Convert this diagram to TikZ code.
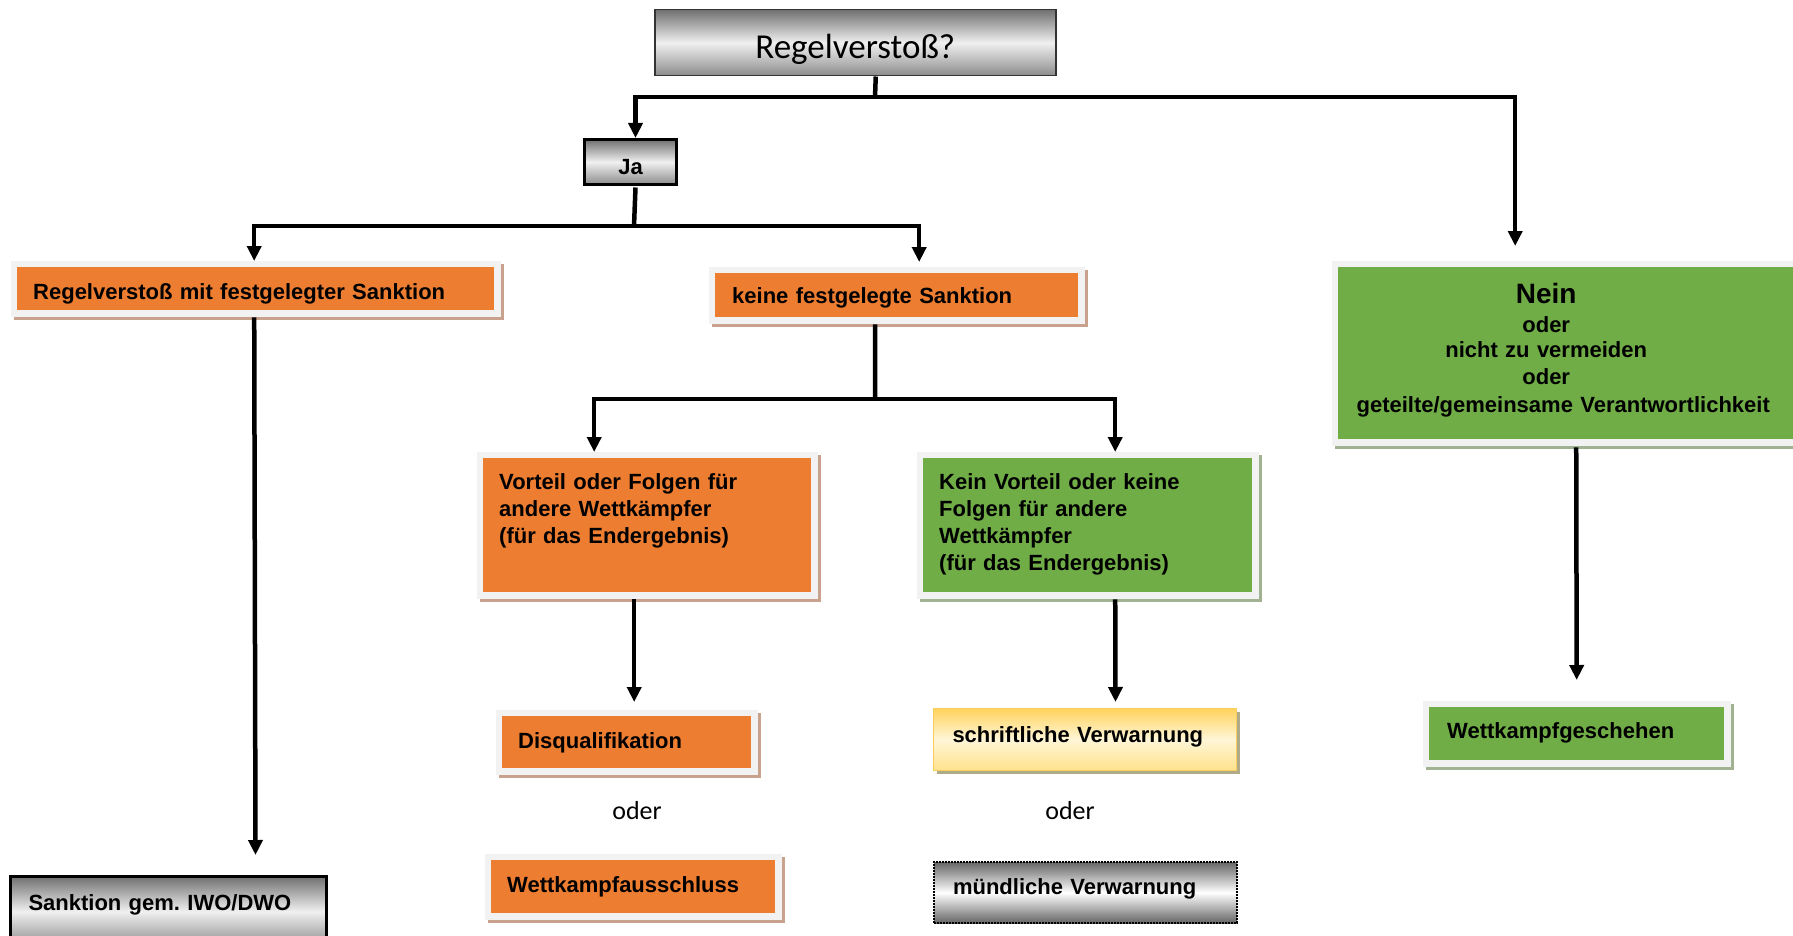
\documentclass[tikz,border=0pt]{standalone}
\usepackage{fontspec}
\setmainfont{Liberation Sans}
\newfontfamily\carlito{Carlito}
\usetikzlibrary{arrows.meta,calc}
\definecolor{orng}{RGB}{237,125,49}
\definecolor{grn}{RGB}{112,173,71}
\definecolor{framec}{RGB}{242,242,242}
\definecolor{oshadow}{RGB}{200,162,140}
\definecolor{gshadow}{RGB}{160,178,146}
\definecolor{yshadow}{RGB}{175,170,135}
\definecolor{gtop}{RGB}{112,112,112}
\definecolor{gmid}{RGB}{240,240,240}
\definecolor{gbot}{RGB}{140,140,140}
\definecolor{ytop}{RGB}{255,210,92}
\definecolor{ymid}{RGB}{255,246,215}
\definecolor{ybot}{RGB}{255,226,140}
\definecolor{yborder}{RGB}{250,205,95}
\tikzset{
  ln/.style={line width=4.5pt},
  arr/.style={ln,-{Triangle[length=15pt,width=14pt]}},
  txtbox/.style={anchor=north west, inner ysep=0pt, align=left,
    font=\bfseries\fontsize{22}{27}\selectfont},
  obox/.style={txtbox, fill=orng,
    preaction={draw=oshadow, line width=13pt, transform canvas={shift={(3,3)}}},
    preaction={draw=framec, line width=13pt}},
  gbox/.style={txtbox, fill=grn,
    preaction={draw=gshadow, line width=13pt, transform canvas={shift={(3,3)}}},
    preaction={draw=framec, line width=13pt}},
  graybox/.style={top color=gtop, bottom color=gbot, middle color=gmid},
}
\begin{document}
\frenchspacing
\begin{tikzpicture}[x=1pt,y=-1pt]
\useasboundingbox (0,0) rectangle (1793,936);
\fill[white] (0,0) rectangle (1793,936);

% top question
\node[graybox, draw=black!80, line width=1.5pt, anchor=north west, inner sep=0pt,
  minimum width=401pt, text height=49pt, text depth=17pt,
  font=\carlito\fontsize{35}{35}\selectfont] (top) at (654,9) {Regelverstoß?};

% Ja
\node[graybox, draw=black, line width=3pt, anchor=north west, inner sep=0pt,
  minimum width=92pt, text height=35pt, text depth=10pt,
  font=\bfseries\fontsize{22}{22}\selectfont] (ja) at (583,138) {Ja};

% level 2
\node[obox, inner xsep=16pt, text width=445pt, text height=32pt, text depth=11pt]
  (regel) at (17,267) {Regelverstoß mit festgelegter Sanktion};
\node[obox, inner xsep=17pt, text width=329pt, text height=30pt, text depth=14pt]
  (keine) at (715,273) {keine festgelegte Sanktion};
\node[gbox, inner xsep=0pt, text width=462pt, text height=36pt, text depth=136pt]
  (nein) at (1338,267) {\makebox[416pt]{\fontsize{28}{28}\selectfont Nein}\\[2pt]
  \makebox[416pt]{oder}\\[-2pt]
  \makebox[416pt]{nicht zu vermeiden}\\
  \makebox[416pt]{oder}\\[1pt]
  \makebox[416pt]{\hspace*{34pt}geteilte/gemeinsame Verantwortlichkeit}};

% level 3
\node[obox, inner xsep=16pt, text width=296pt, text height=31pt, text depth=103pt]
  (vorteil) at (483,458) {Vorteil oder Folgen für\\andere Wettkämpfer\\(für das Endergebnis)};
\node[gbox, inner xsep=16pt, text width=297pt, text height=31pt, text depth=103pt]
  (kein) at (923,458) {Kein Vorteil oder keine\\Folgen für andere\\Wettkämpfer\\(für das Endergebnis)};

% level 4
\node[obox, inner xsep=16pt, text width=217pt, text height=32pt, text depth=20pt]
  (disq) at (502,716) {Disqualifikation};
\node[anchor=base, inner sep=0pt, font=\carlito\fontsize{26}{26}\selectfont]
  (oder1) at (637,819) {oder};
\node[obox, inner xsep=16pt, text width=252pt, text height=32pt, text depth=21pt]
  (aus) at (491,860) {Wettkampfausschluss};

\node[txtbox, top color=ytop, bottom color=ybot, middle color=ymid, draw=yborder, line width=1pt,
  preaction={fill=yshadow, transform canvas={shift={(3,3)}}},
  inner xsep=19pt, text width=265pt, text height=34pt, text depth=28pt]
  (schrift) at (933,708) {schriftliche Verwarnung};
\node[anchor=base, inner sep=0pt, font=\carlito\fontsize{26}{26}\selectfont]
  (oder2) at (1070,819) {oder};
\node[txtbox, top color=gtop!90!black, bottom color=gtop!90!black, middle color=white, draw=black,
  line width=2pt, densely dotted,
  inner xsep=19pt, text width=265pt, text height=32pt, text depth=29pt]
  (muend) at (933,861) {mündliche Verwarnung};

\node[gbox, inner xsep=18pt, text width=259pt, text height=31pt, text depth=22pt]
  (wett) at (1429,707) {Wettkampfgeschehen};

\node[txtbox, graybox, draw=black, line width=3pt,
  inner xsep=18pt, text width=280pt, text height=34pt, text depth=36pt]
  (sanktion) at (9,875) {Sanktion gem.\ IWO/DWO};

% connectors
\coordinate (j1) at (875,97);
\draw[ln] ([xshift=20.5pt]top.south) -- (j1);
\draw[arr] (j1) -| ([xshift=5pt]ja.north);
\draw[arr] (j1) -| ([xshift=-54pt,yshift=21pt]nein.north);

\coordinate (j2) at (634,226);
\draw[ln] ([xshift=5pt,yshift=-1.5pt]ja.south) -- (j2);
\draw[arr] (j2) -| ([xshift=-1.5pt,yshift=6pt]regel.north);
\draw[arr] (j2) -| ([xshift=22.5pt,yshift=11pt]keine.north);

\draw[arr, shorten <=7pt] ([xshift=-1.5pt]regel.south) -- ([xshift=87pt,yshift=20pt]sanktion.north);

\coordinate (j3) at (875,399);
\draw[ln, shorten <=7pt] ([xshift=-21.5pt]keine.south) -- (j3);
\draw[arr] (j3) -| ([xshift=-53pt,yshift=6pt]vorteil.north);
\draw[arr] (j3) -| ([xshift=27.5pt,yshift=6pt]kein.north);

\draw[arr, shorten <=7pt] ([xshift=-13pt]vorteil.south) -- ([xshift=7.5pt,yshift=14pt]disq.north);
\draw[arr, shorten <=7pt] ([xshift=27.5pt]kein.south) -- ([xshift=30.5pt,yshift=6pt]schrift.north);
\draw[arr, shorten <=8pt] ([xshift=7pt]nein.south) -- ([yshift=27pt]wett.north);
\end{tikzpicture}
\end{document}
